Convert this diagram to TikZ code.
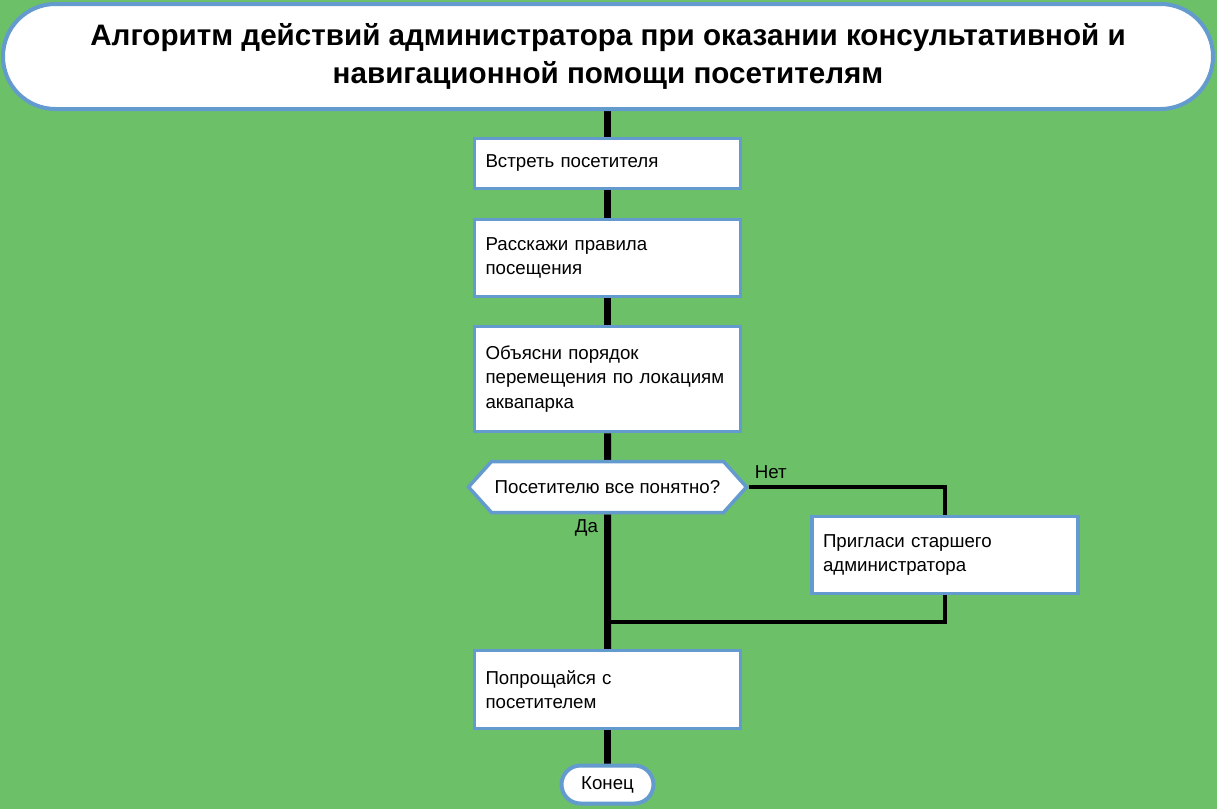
\documentclass[tikz,border=0pt]{standalone}
\usepackage{fontspec}
\setmainfont{Liberation Sans}
\usetikzlibrary{shapes.misc,shapes.symbols}
\pgfdeclarelayer{back}
\pgfdeclarelayer{bg}
\pgfsetlayers{back,bg,main}
\definecolor{fieldgreen}{RGB}{108,192,104}
\definecolor{frameblue}{RGB}{100,155,207}
\tikzset{
    every node/.style={inner sep=0pt, font=\fontsize{18.7}{24.5}\selectfont},
    stepbox/.style={rectangle, draw=frameblue, line width=3.5pt, fill=white, text width=244pt, inner xsep=11pt, align=left, minimum width=266pt},
    ends/.style={rounded rectangle, draw=frameblue, line width=4pt, fill=white, align=center},
    check/.style={signal, signal to=west and east, signal pointer angle=96, draw=frameblue, line width=3.5pt, fill=white, minimum width=278pt, minimum height=51pt},
    flow/.style={line width=7pt},
    side/.style={line width=4pt}
}

\begin{document}
\begin{tikzpicture}[x=1pt, y=-1pt]
        \useasboundingbox (0,0) rectangle (1217,809);
        \begin{pgfonlayer}{back}
                \fill[fieldgreen] (0,0) rectangle (1217,809);
        \end{pgfonlayer}
        \node (t0) [ends, minimum width=1210pt, minimum height=105pt, font=\fontsize{29.6}{38}\selectfont\bfseries] at (608, 56.5) {Алгоритм действий администратора при оказании консультативной и\\навигационной помощи посетителям};
        \node (b1) [stepbox, minimum height=50pt] at (607.5, 163.5) {Встреть посетителя};
        \node (b2) [stepbox, minimum height=77pt] at (607.5, 258) {Расскажи правила\\посещения};
        \node (b3) [stepbox, minimum height=105pt] at (607.5, 379) {Объясни порядок\\перемещения по локациям\\аквапарка};
        \node (d1) [check] at (607.5, 487) {Посетителю все понятно?};
        \node (b4) [stepbox, minimum height=77pt] at (945, 555) {Пригласи старшего\\администратора};
        \node (b5) [stepbox, minimum height=78pt] at (607.5, 689.5) {Попрощайся с\\посетителем};
        \node (t1) [ends, minimum width=92pt, minimum height=38pt] at (607.5, 784.5) {Конец};
        \coordinate (j1) at (607.5, 622);
        \begin{pgfonlayer}{bg}
                \draw[flow] (t0.south -| b1.north) -- (b1);
                \draw[flow] (b1) -- (b2);
                \draw[flow] (b2) -- (b3);
                \draw[flow] (b3) -- (d1);
                \draw[flow] (d1) -- node[pos=0.1, left=6pt] {Да} (b5);
                \draw[flow] (b5) -- (t1);
                \draw[side] (d1.east) -- node[pos=0, anchor=south west, xshift=4pt, yshift=6pt] {Нет} (d1.east -| b4.north) -- (b4.north);
                \draw[side] (b4.south) |- (j1);
        \end{pgfonlayer}
\end{tikzpicture}
\end{document}
